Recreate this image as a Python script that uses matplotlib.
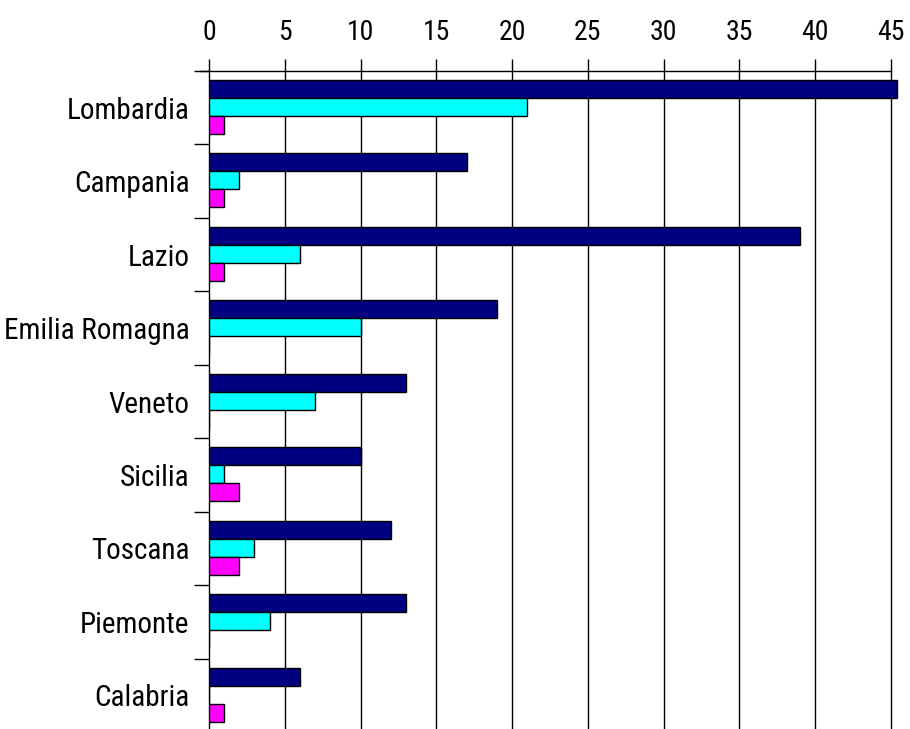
import matplotlib
matplotlib.use("Agg")
import matplotlib.pyplot as plt
import numpy as np
from matplotlib import font_manager

regions = ["Lombardia", "Campania", "Lazio", "Emilia Romagna", "Veneto",
           "Sicilia", "Toscana", "Piemonte", "Calabria"]
series_navy = [45.4, 17, 39, 19, 13, 10, 12, 13, 6]
series_cyan = [21, 2, 6, 10, 7, 1, 3, 4, 0]
series_magenta = [1, 1, 1, 0, 0, 2, 2, 0, 1]
x_ticks = [0, 5, 10, 15, 20, 25, 30, 35, 40, 45]

names = {f.name for f in font_manager.fontManager.ttflist}
if "Roboto Condensed" in names:
    fam, stretch = "Roboto Condensed", "condensed"
else:
    fam, stretch = "DejaVu Sans", "condensed"
plt.rcParams['font.family'] = [fam, 'DejaVu Sans']
plt.rcParams['font.stretch'] = stretch

fig = plt.figure(figsize=(9.1, 7.29), dpi=100)
left = 209 / 910
top = 1 - 71 / 729
px_per_unit = (891 - 209) / 45
xmax = 45.8
width = xmax * px_per_unit / 910
height = (732 - 71) / 729
ax = fig.add_axes([left, top - height, width, height])

n = len(regions)
base = np.arange(n)
h = 0.245
colors = ["#000080", "#00FFFF", "#FF00FF"]
for k, (vals, c) in enumerate(zip([series_navy, series_cyan, series_magenta], colors)):
    ax.barh(base + 0.245 + k * h, vals, height=h, color=c, edgecolor="black",
            linewidth=1.0, zorder=3)

ax.set_xlim(0, xmax)
ax.set_ylim(n, 0)

ax.xaxis.tick_top()
ax.set_xticks(x_ticks)
ax.set_xticklabels([str(t) for t in x_ticks], fontsize=20, fontweight='normal')
ax.tick_params(axis='x', direction='out', length=9, width=1, pad=9, colors='black')

ax.set_yticks(base + 0.5)
ax.set_yticklabels(regions, fontsize=21, fontweight='normal')
ax.set_yticks(np.arange(n + 1), minor=True)
ax.tick_params(axis='y', which='major', length=0, pad=14)
ax.tick_params(axis='y', which='minor', direction='out', length=11, width=1)

for t in x_ticks[1:]:
    ax.axvline(t, color='black', linewidth=1, zorder=1)

ax.spines['right'].set_visible(False)
ax.spines['bottom'].set_visible(False)
ax.spines['top'].set_bounds(-0.6, 45)
ax.spines['top'].set_linewidth(1)
ax.spines['left'].set_linewidth(1)
ax.spines['top'].set_clip_on(False)

fig.savefig("out.png", dpi=100)
